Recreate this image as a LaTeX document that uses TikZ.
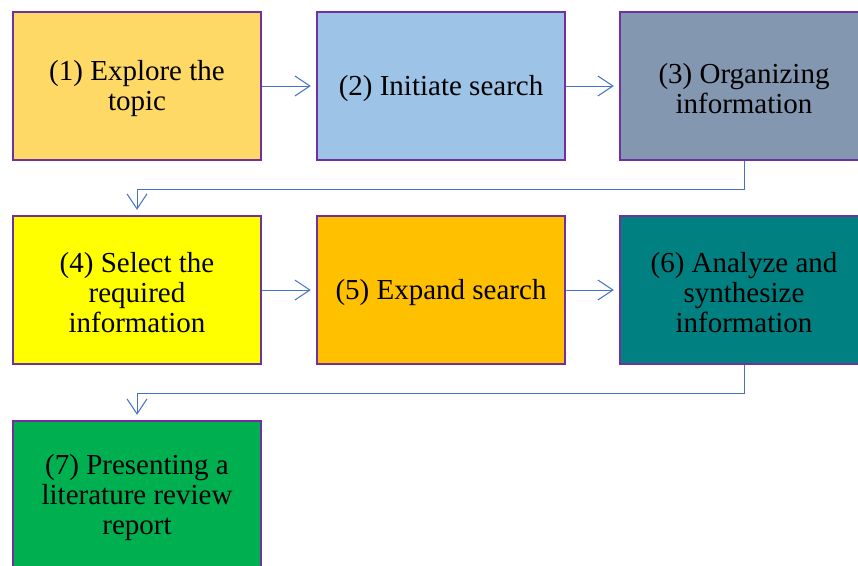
\documentclass[tikz,border=0pt]{standalone}
\usepackage{fontspec}
\setmainfont{Liberation Serif}
\usetikzlibrary{arrows.meta}

\definecolor{edgepurple}{HTML}{7030A0}
\definecolor{flowblue}{HTML}{4472C4}
\definecolor{fillone}{HTML}{FFD966}
\definecolor{filltwo}{HTML}{9DC3E6}
\definecolor{fillthree}{HTML}{8497B0}
\definecolor{fillfour}{HTML}{FFFF00}
\definecolor{fillfive}{HTML}{FFC000}
\definecolor{fillsix}{HTML}{008080}
\definecolor{fillseven}{HTML}{00B050}

\begin{document}
\begin{tikzpicture}[x=1pt,y=-1pt,
    stepbox/.style={draw=edgepurple,line width=2.5pt,minimum width=248pt,minimum height=148pt,
        inner sep=0pt},
    steptext/.style={align=center,font=\fontsize{29}{30}\selectfont,yshift=-3pt},
    flow/.style={draw=flowblue,line width=1pt,shorten >=5pt,
        -{Straight Barb[length=15pt,width=20pt,line width=1pt]}}]
    \useasboundingbox (0,0) rectangle (858,565);
    \clip (0,0) rectangle (858,565);
    % the seven steps, three per row
    \foreach \n/\x/\y/\c/\t in {
        1/137/86/fillone/{(1) Explore the\\topic},
        2/441/86/filltwo/{(2) Initiate search},
        3/744/86/fillthree/{(3) Organizing\\information},
        4/137/290/fillfour/{(4) Select the\\required\\information},
        5/441/290/fillfive/{(5) Expand search},
        6/744/290/fillsix/{(6) Analyze and\\synthesize\\information},
        7/137/495/fillseven/{(7) Presenting a\\literature review\\report}}{
        \node[stepbox,fill=\c,label={[steptext]center:\t}] (S-\n) at (\x,\y) {};
    }
    % arrows inside a row
    \foreach \a/\b in {1/2,2/3,4/5,5/6}{
        \draw[flow] (S-\a) -- (S-\b);
    }
    % going down to the next row
    \draw[flow] (S-3.south) -- ++(0,28) -| (S-4.north);
    \draw[flow] (S-6.south) -- ++(0,28) -| (S-7.north);
\end{tikzpicture}
\end{document}
